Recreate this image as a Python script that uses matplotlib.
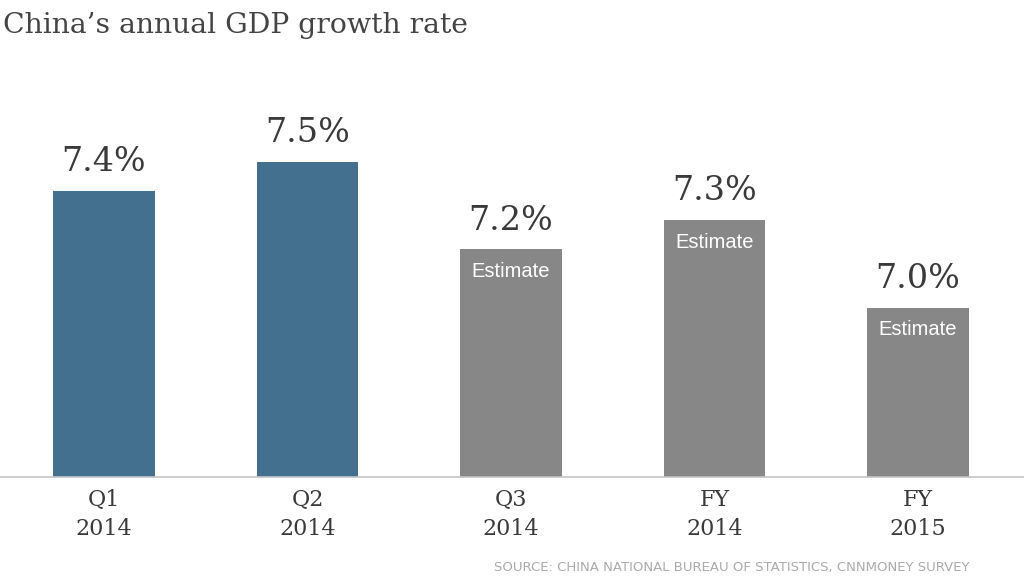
import matplotlib
matplotlib.use("Agg")
from matplotlib import pyplot as plt
import numpy as np

# Data
categories = ["Q1\n2014", "Q2\n2014", "Q3\n2014", "FY\n2014", "FY\n2015"]
growth = [7.4, 7.5, 7.2, 7.3, 7.0]
is_estimate = [False, False, True, True, True]

blue = "#43708f"
grey = "#878787"
text_col = "#3a3a3a"

fig = plt.figure(figsize=(10.24, 5.76), dpi=100)
ax = fig.add_axes([0, 0.172, 1, 0.654])

x = np.arange(len(categories))
colors = [grey if e else blue for e in is_estimate]
bars = ax.bar(x, growth, width=0.5, color=colors, zorder=2)

ax.set_xlim(-0.511, 4.521)
ax.set_ylim(6.42, 7.71)

# value labels + estimate tags
for xi, v, est in zip(x, growth, is_estimate):
    ax.annotate(f"{v:.1f}%", (xi, v), xytext=(0, 9), textcoords="offset points",
                ha="center", va="bottom", fontsize=24, family="DejaVu Serif",
                color=text_col)
    if est:
        ax.annotate("Estimate", (xi, v), xytext=(0, -16), textcoords="offset points",
                    ha="center", va="center", fontsize=14.5, color="white",
                    family=["Liberation Sans Narrow", "Liberation Sans", "DejaVu Sans"])

for s in ["top", "right", "left"]:
    ax.spines[s].set_visible(False)
ax.spines["bottom"].set_color("#c4c4c4")
ax.spines["bottom"].set_linewidth(1.2)
ax.set_yticks([])
ax.set_xticks(x)
ax.set_xticklabels(categories, fontsize=16, family="DejaVu Serif", color=text_col,
                   linespacing=1.4)
ax.tick_params(axis="x", length=0, pad=9)

fig.text(0.003, 0.955, "China\u2019s annual GDP growth rate", fontsize=20.3,
         family="DejaVu Serif", color="#444444", ha="left", va="center")

fig.text(0.482, 0.004, "SOURCE: CHINA NATIONAL BUREAU OF STATISTICS, CNNMONEY SURVEY",
         fontsize=9.5, color="#aaaaaa", ha="left", va="bottom")

fig.savefig("out.png", dpi=100)
